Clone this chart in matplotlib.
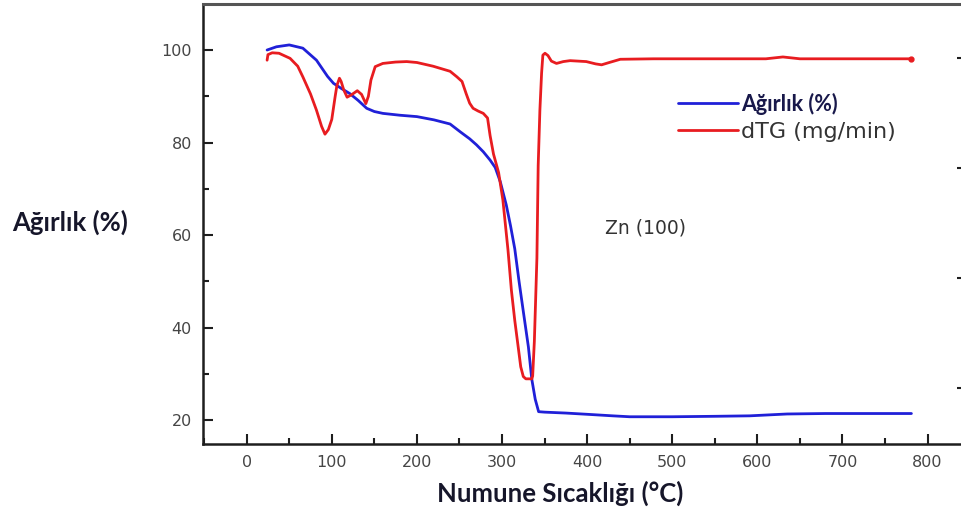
import matplotlib
matplotlib.use("Agg")
import matplotlib.pyplot as plt
from matplotlib.ticker import MultipleLocator

# ---- data ----
temp_w = [24, 35, 50, 66, 82, 95, 102, 112, 121, 131, 141, 150, 160, 180, 200, 220, 239,
          251, 262, 270, 278, 286, 292, 298, 305, 310, 315, 320, 325, 331, 335, 339, 343,
          350, 375, 403, 430, 450, 500, 550, 591, 635, 680, 721, 781]
weight = [100.0, 100.7, 101.1, 100.4, 97.8, 94.3, 92.8, 91.6, 90.6, 89.1, 87.4, 86.7, 86.3,
          85.9, 85.6, 84.9, 84.0, 82.3, 80.8, 79.5, 78.0, 76.2, 74.6, 71.5, 66.5, 62.0, 57.0,
          50.0, 43.5, 35.8, 28.8, 24.5, 21.8, 21.7, 21.5, 21.2, 20.9, 20.7, 20.7, 20.8, 20.9,
          21.3, 21.4, 21.4, 21.4]

temp_d = [24, 25, 30, 38, 51, 60, 66, 75, 82, 88, 92, 96, 100, 104, 106, 109, 111, 114, 118,
          123, 130, 135, 140, 143, 146, 151, 160, 175, 188, 200, 219, 239, 247, 253, 258, 262,
          266, 272, 278, 283, 286, 290, 296, 301, 307, 311, 315, 319, 322, 325, 328, 335, 336,
          338, 339.5, 341, 342.5, 344.5, 346.5, 348, 350.5, 354, 358, 364, 372, 380, 399, 410,
          417, 426, 439, 478, 550, 610, 630, 650, 700, 781]
dtg = [97.8, 99.0, 99.4, 99.3, 98.2, 96.5, 94.2, 90.5, 87.0, 83.5, 81.8, 82.8, 85.0, 90.0,
       92.3, 93.9, 93.2, 91.4, 89.8, 90.3, 91.2, 90.4, 88.4, 90.0, 93.5, 96.4, 97.1, 97.4,
       97.5, 97.3, 96.5, 95.4, 94.2, 93.2, 90.5, 88.5, 87.4, 86.8, 86.3, 85.3, 81.5, 77.5,
       73.5, 67.6, 56.8, 48.1, 41.5, 35.8, 31.5, 29.4, 28.9, 28.9, 29.5, 37.0, 46.0, 55.0,
       75.0, 87.0, 95.0, 98.9, 99.3, 98.8, 97.6, 97.1, 97.5, 97.7, 97.5, 97.0, 96.8, 97.3,
       98.0, 98.1, 98.1, 98.1, 98.5, 98.1, 98.1, 98.1]

series_labels = ["Ağırlık (%)", "dTG (mg/min)"]
x_ticks = [0, 100, 200, 300, 400, 500, 600, 700, 800]
y_ticks = [20, 40, 60, 80, 100]
right_ticks = [98.3, 74.5, 50.7, 26.9]

BLUE = "#2020d8"
RED = "#e81c20"
SPINE = "#1e1e1e"
TICKC = "#454545"

fig = plt.figure(figsize=(9.61, 5.17), dpi=100)
ax = fig.add_axes([203 / 961, 73 / 517, (963 - 203) / 961, (444 - 4) / 517])

l1, = ax.plot(temp_w, weight, color=BLUE, lw=2.0, solid_joinstyle="round",
              solid_capstyle="round", label=series_labels[0], zorder=3)
l2, = ax.plot(temp_d, dtg, color=RED, lw=2.0, solid_joinstyle="round",
              solid_capstyle="round", label=series_labels[1], zorder=4,
              marker="o", markevery=[len(temp_d) - 1], markersize=3.5)

ax.set_xlim(-51.3, 841.6)
ax.set_ylim(14.81, 109.95)

ax.set_xticks(x_ticks)
ax.set_yticks(y_ticks)
ax.xaxis.set_minor_locator(MultipleLocator(50))
ax.yaxis.set_minor_locator(MultipleLocator(10))

for s in ax.spines.values():
    s.set_color(SPINE)
    s.set_linewidth(1.8)
ax.spines["top"].set_color("#555555")
ax.spines["top"].set_linewidth(2.2)

ax.tick_params(which="major", direction="in", length=7.5, width=1.5, color=SPINE,
               labelsize=11.5, labelcolor=TICKC, pad=8, top=False, right=False)
ax.tick_params(which="minor", direction="in", length=4.5, width=1.5, color=SPINE,
               top=False, right=False)
for lab in ax.get_xticklabels() + ax.get_yticklabels():
    lab.set_family("DejaVu Sans")

ax2 = ax.twinx()
ax2.set_ylim(ax.get_ylim())
ax2.set_yticks(right_ticks)
ax2.set_yticklabels([])
ax2.tick_params(axis="y", direction="in", length=4, width=1.5, color=SPINE)
for s in ax2.spines.values():
    s.set_visible(False)

fig.text(70 / 961, 1 - 222 / 517, "Ağırlık (%)", fontfamily="Lato", fontweight="bold",
         fontsize=18.5, color="#16162a", ha="center", va="center")
fig.text(560 / 961, 1 - 493 / 517, "Numune Sıcaklığı (°C)", fontfamily="Lato",
         fontweight="bold", fontsize=18.5, color="#16162a", ha="center", va="center")

ax.text(468, 61.5, "Zn (100)", fontfamily="DejaVu Sans", fontsize=13.5, color="#333333",
        ha="center", va="center")

leg = ax.legend(handles=[l1, l2], loc="upper left", bbox_to_anchor=(678 / 961, 1 - 93 / 517),
                bbox_transform=fig.transFigure, frameon=False, borderpad=0, borderaxespad=0,
                handlelength=2.7, handletextpad=0.15, labelspacing=0.3, fontsize=16)
t0, t1 = leg.get_texts()
t0.set_fontfamily("Lato")
t0.set_fontweight("bold")
t0.set_fontsize(15.5)
t0.set_color("#18184a")
t1.set_fontfamily("DejaVu Sans")
t1.set_color("#333333")
for h in leg.legend_handles:
    h.set_marker("")

fig.savefig("out.png", dpi=100)
